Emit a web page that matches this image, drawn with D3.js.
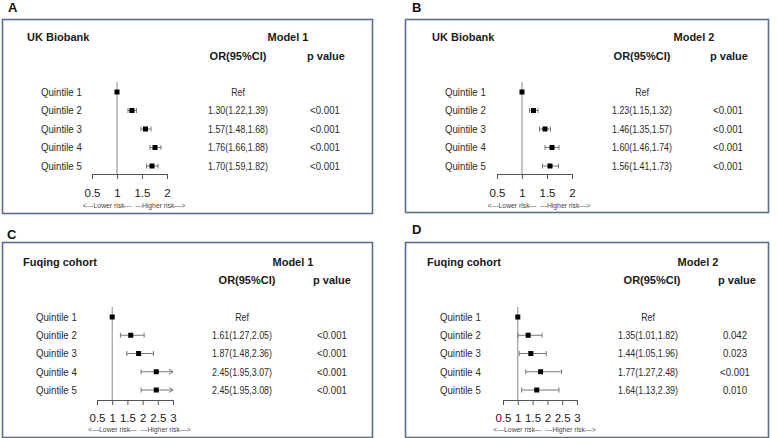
<!DOCTYPE html>
<html>
<head>
<meta charset="utf-8">
<script src="https://cdn.jsdelivr.net/npm/d3@7"></script>
<style>
  html, body { margin: 0; padding: 0; background: #fff; }
  svg { display: block; font-family: "Liberation Sans", Arial, sans-serif; }
</style>
</head>
<body>
<svg id="chart" width="777" height="438"></svg>
<script>
// ---------------- data ----------------
const quintiles = ["Quintile 1", "Quintile 2", "Quintile 3", "Quintile 4", "Quintile 5"];

const ukM1OR = [1, 1.30, 1.57, 1.76, 1.70];
const ukM1Lo = [1, 1.22, 1.48, 1.66, 1.59];
const ukM1Hi = [1, 1.39, 1.68, 1.88, 1.82];
const ukM1P  = ["", "<0.001", "<0.001", "<0.001", "<0.001"];

const ukM2OR = [1, 1.23, 1.46, 1.60, 1.56];
const ukM2Lo = [1, 1.15, 1.35, 1.46, 1.41];
const ukM2Hi = [1, 1.32, 1.57, 1.74, 1.73];
const ukM2P  = ["", "<0.001", "<0.001", "<0.001", "<0.001"];

const fqM1OR = [1, 1.61, 1.87, 2.45, 2.45];
const fqM1Lo = [1, 1.27, 1.48, 1.95, 1.95];
const fqM1Hi = [1, 2.05, 2.36, 3.07, 3.08];
const fqM1P  = ["", "<0.001", "<0.001", "<0.001", "<0.001"];

const fqM2OR = [1, 1.35, 1.44, 1.77, 1.64];
const fqM2Lo = [1, 1.01, 1.05, 1.27, 1.13];
const fqM2Hi = [1, 1.82, 1.96, 2.48, 2.39];
const fqM2P  = ["", "0.042", "0.023", "<0.001", "0.010"];

const ukTicks = [0.5, 1, 1.5, 2];
const fqTicks = [0.5, 1, 1.5, 2, 2.5, 3];

const panelLetters = ["A", "B", "C", "D"];
const cohortTitles = ["UK Biobank", "UK Biobank", "Fuqing cohort", "Fuqing cohort"];
const modelTitles  = ["Model 1", "Model 2", "Model 1", "Model 2"];
const colHeaderOR = "OR(95%CI)";
const colHeaderP  = "p value";
const refLabel    = "Ref";
const riskLabel   = "<---Lower risk---  ---Higher risk--->";

// ---------------- layout (styles only) ----------------
const layouts = [
  { box:[2,19,370,194], letter:[8,12], title:[27,41], model:288, hdrY:60, orHdr:238, pHdr:326,
    rowY:[92,166], qX:41, orX:238, pX:325, xr:[92,167], axisY:174, tickLabY:10, riskY:208 },
  { box:[405,19,363,193], letter:[412,12], title:[432,41], model:694, hdrY:60, orHdr:642, pHdr:729,
    rowY:[92,166], qX:445, orX:642, pX:728, xr:[497,572], axisY:174, tickLabY:10, riskY:208 },
  { box:[2,242,370,195], letter:[7,239], title:[23,266], model:293, hdrY:284, orHdr:247, pHdr:332,
    rowY:[317,390], qX:36, orX:242, pX:332, xr:[97,173], axisY:400, tickLabY:9, riskY:432 },
  { box:[405,242,363,195], letter:[412,234], title:[427,266], model:698, hdrY:284, orHdr:652, pHdr:737,
    rowY:[317,390], qX:440, orX:648, pX:735, xr:[503,577], axisY:400, tickLabY:9, riskY:432 }
];

const datasets = [
  { or: ukM1OR, lo: ukM1Lo, hi: ukM1Hi, p: ukM1P, ticks: ukTicks },
  { or: ukM2OR, lo: ukM2Lo, hi: ukM2Hi, p: ukM2P, ticks: ukTicks },
  { or: fqM1OR, lo: fqM1Lo, hi: fqM1Hi, p: fqM1P, ticks: fqTicks },
  { or: fqM2OR, lo: fqM2Lo, hi: fqM2Hi, p: fqM2P, ticks: fqTicks }
];

const svg = d3.select("#chart");
const f2 = d3.format(".2f");
const textCol = "#1a1a1a";
const boxCol = "#5a6e92";

function drawPanel(i) {
  const L = layouts[i], D = datasets[i];
  const g = svg.append("g");

  // panel box
  g.append("rect")
    .attr("x", L.box[0] + 0.5).attr("y", L.box[1] + 0.5)
    .attr("width", L.box[2]).attr("height", L.box[3])
    .attr("fill", "none").attr("stroke", boxCol).attr("stroke-width", 1.6);

  // panel letter
  g.append("text").attr("x", L.letter[0]).attr("y", L.letter[1])
    .attr("font-size", 13).attr("font-weight", "bold").attr("fill", "#111")
    .text(panelLetters[i]);

  // headers
  const hdr = (x, y, t, anchor) => g.append("text").attr("x", x).attr("y", y)
    .attr("font-size", 11).attr("font-weight", "bold").attr("fill", textCol)
    .attr("text-anchor", anchor).text(t);
  hdr(L.title[0], L.title[1], cohortTitles[i], "start");
  hdr(L.model, L.title[1], modelTitles[i], "middle");
  hdr(L.orHdr, L.hdrY, colHeaderOR, "middle");
  hdr(L.pHdr, L.hdrY, colHeaderP, "middle");

  const lo = d3.min(D.ticks), hi = d3.max(D.ticks);
  const x = d3.scaleLinear().domain([lo, hi]).range(L.xr);
  const y = d3.scalePoint().domain(quintiles).range(L.rowY);

  // reference line at OR = 1
  g.append("line")
    .attr("x1", x(1)).attr("x2", x(1))
    .attr("y1", L.rowY[0] - 10).attr("y2", L.axisY)
    .attr("stroke", "#8a8a8a").attr("stroke-width", 1);

  // axis
  const axis = d3.axisBottom(x).tickValues(D.ticks).tickSize(5).tickSizeOuter(0)
    .tickPadding(L.tickLabY).tickFormat(d3.format("~g"));
  const ag = g.append("g").attr("transform", `translate(0,${L.axisY})`).call(axis);
  ag.select(".domain").attr("stroke", "#555");
  ag.selectAll(".tick line").attr("stroke", "#555");
  ag.selectAll(".tick text").attr("font-size", 11.5).attr("fill", textCol)
    .attr("font-family", "Liberation Sans, Arial, sans-serif");

  // risk label
  g.append("text").attr("x", (L.xr[0] + L.xr[1]) / 2 + 4.5).attr("y", L.riskY)
    .attr("font-size", 6.8).attr("fill", "#444").attr("text-anchor", "middle")
    .style("white-space", "pre").text(riskLabel);

  const rows = quintiles.map((q, k) => ({ q, or: D.or[k], lo: D.lo[k], hi: D.hi[k], p: D.p[k], k }));

  // quintile labels
  g.selectAll(".ql").data(rows).enter().append("text")
    .attr("transform", d => `translate(${L.qX},${y(d.q) + 3.8}) scale(0.92,1)`)
    .attr("font-size", 10.5).attr("fill", "#2a2a2a").text(d => d.q);

  // OR text
  g.selectAll(".ort").data(rows).enter().append("text")
    .attr("transform", d => `translate(${L.orX},${y(d.q) + 3.8}) scale(0.84,1)`)
    .attr("font-size", 10.5).attr("fill", "#2a2a2a").attr("text-anchor", "middle")
    .text(d => d.k === 0 ? refLabel : `${f2(d.or)}(${f2(d.lo)},${f2(d.hi)})`);

  // p text
  g.selectAll(".pt").data(rows).enter().append("text")
    .attr("transform", d => `translate(${L.pX},${y(d.q) + 3.8}) scale(0.92,1)`)
    .attr("font-size", 10.5).attr("fill", "#2a2a2a").attr("text-anchor", "middle")
    .text(d => d.p);

  // CIs
  const ci = rows.filter(d => d.hi > d.lo);
  const ciCol = "#777";
  ci.forEach(d => {
    const yy = y(d.q);
    const x0 = x(Math.max(d.lo, lo));
    const clipped = d.hi > hi;
    const x1 = x(Math.min(d.hi, hi));
    g.append("line").attr("x1", x0).attr("x2", x1).attr("y1", yy).attr("y2", yy)
      .attr("stroke", ciCol).attr("stroke-width", 1);
    g.append("line").attr("x1", x0).attr("x2", x0).attr("y1", yy - 2.5).attr("y2", yy + 2.5)
      .attr("stroke", ciCol).attr("stroke-width", 1);
    if (clipped) {
      g.append("path").attr("d", `M${x1 - 4},${yy - 2.5}L${x1},${yy}L${x1 - 4},${yy + 2.5}`)
        .attr("fill", "none").attr("stroke", ciCol).attr("stroke-width", 1);
    } else {
      g.append("line").attr("x1", x1).attr("x2", x1).attr("y1", yy - 2.5).attr("y2", yy + 2.5)
        .attr("stroke", ciCol).attr("stroke-width", 1);
    }
  });

  // point estimates
  const s = 5;
  g.selectAll(".pt-sq").data(rows).enter().append("rect")
    .attr("x", d => x(d.or) - s / 2).attr("y", d => y(d.q) - s / 2)
    .attr("width", s).attr("height", s).attr("fill", "#000");
}

[0, 1, 2, 3].forEach(drawPanel);
</script>
</body>
</html>
